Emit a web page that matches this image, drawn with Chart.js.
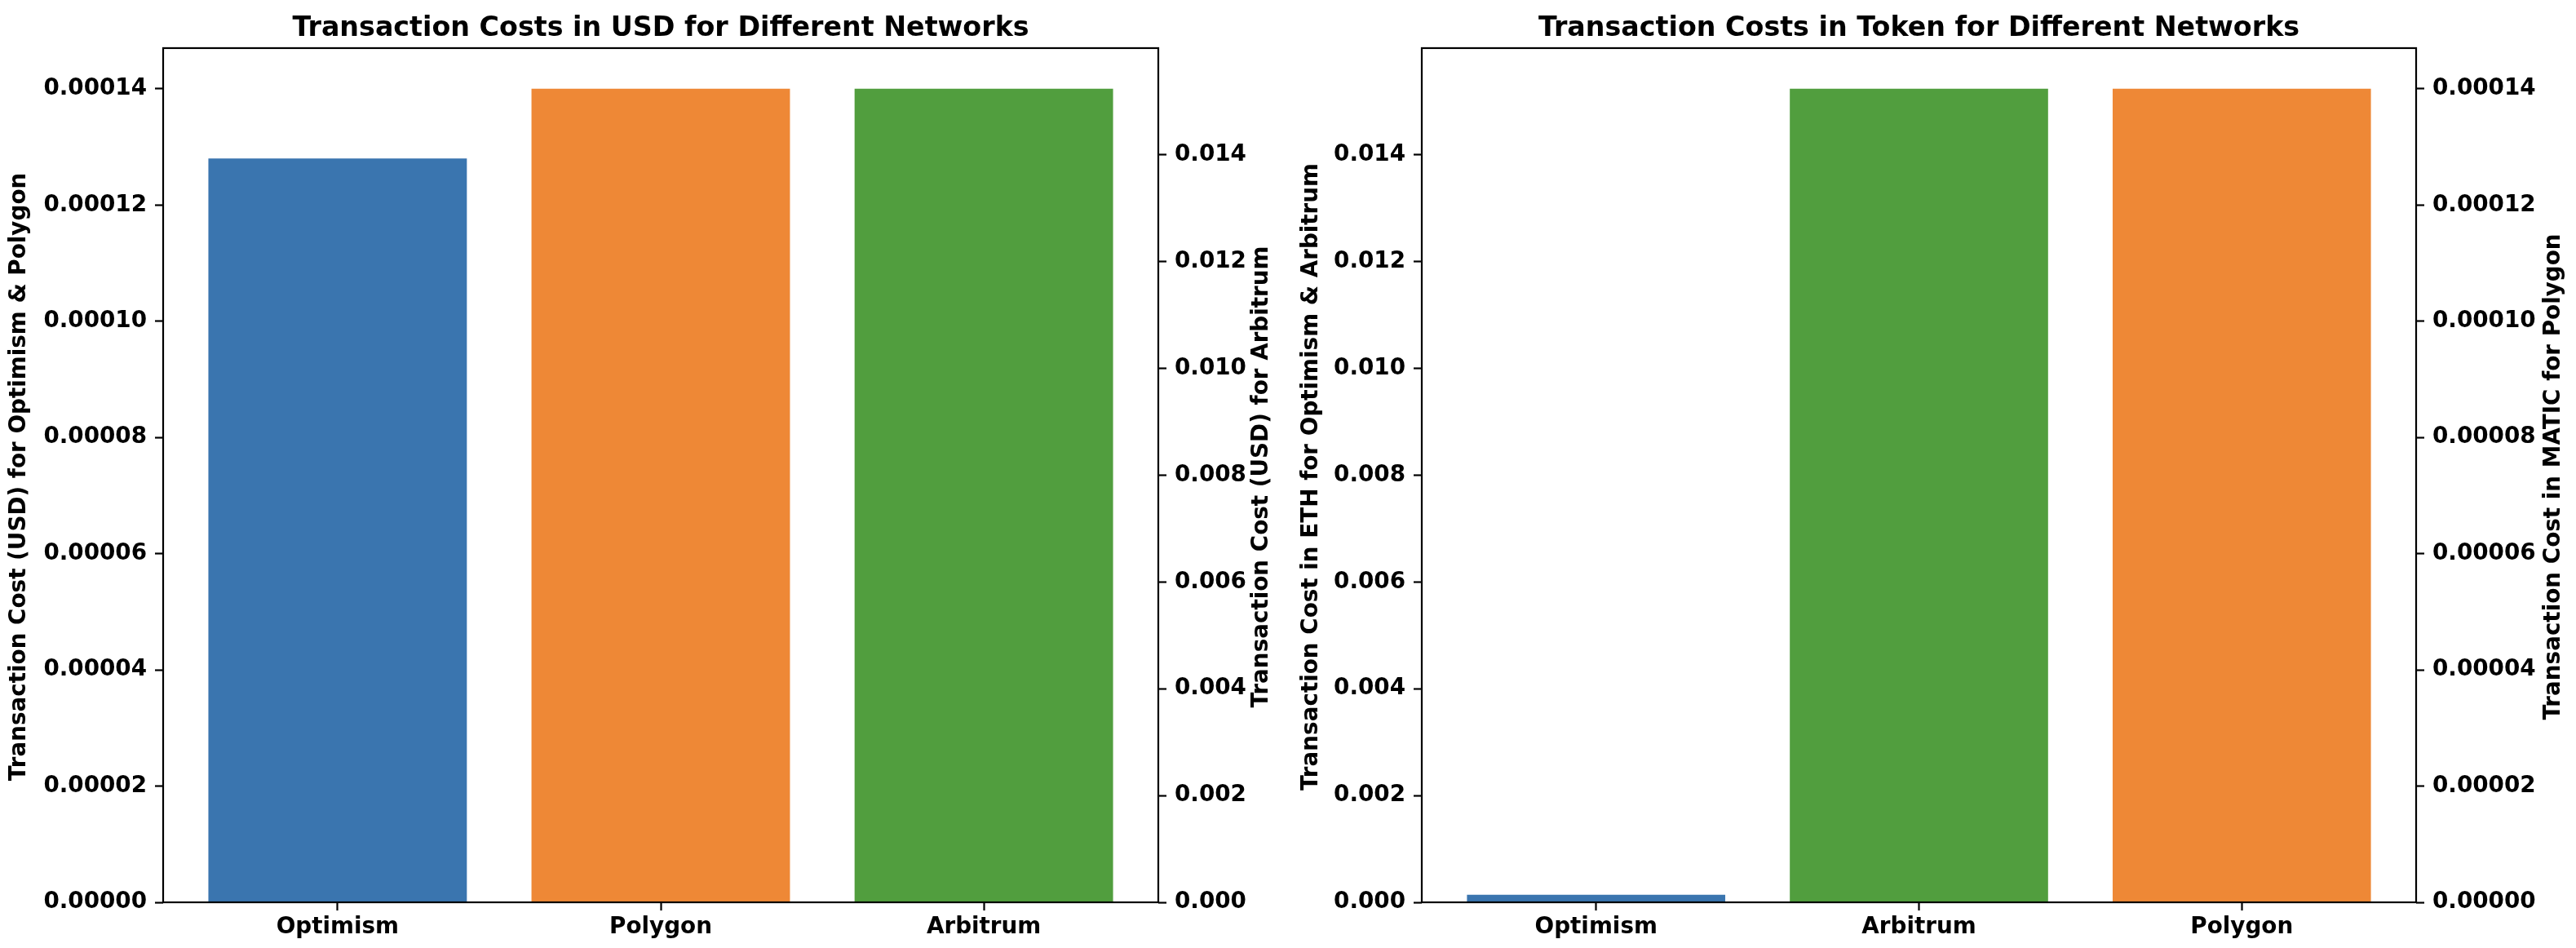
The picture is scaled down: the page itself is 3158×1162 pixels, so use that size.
<!DOCTYPE html>
<html lang="en">

<head>
    <meta charset="UTF-8" />
    <title>Transaction Costs</title>
    <style>
        body {
            margin: 0;
            padding: 0;
            background: #fff;
            width: 3158px;
            height: 1162px;
            position: relative;
            overflow: hidden;
        }

        canvas {
            position: absolute;
            top: 0;
        }

        #usdChart {
            left: 0;
        }

        #tokenChart {
            left: 1547px;
        }
    </style>
    <script src="https://cdn.jsdelivr.net/npm/chart.js@4/dist/chart.umd.min.js"></script>
</head>

<body>

    <canvas id="usdChart" width="1620" height="1162"></canvas>
    <canvas id="tokenChart" width="1611" height="1162"></canvas>

    <script>
        // Data
        const usdCategories = ['Optimism', 'Polygon', 'Arbitrum'];
        const usdValues = [0.000128, 0.00014, 0.01524];
        const usdAxes = ['y', 'y', 'y1'];

        const tokenCategories = ['Optimism', 'Arbitrum', 'Polygon'];
        const tokenValues = [0.00014, 0.01524, 0.00014];
        const tokenAxes = ['y', 'y', 'y1'];

        const smallTicks = [0, 0.00002, 0.00004, 0.00006, 0.00008, 0.00010, 0.00012, 0.00014];
        const largeTicks = [0, 0.002, 0.004, 0.006, 0.008, 0.010, 0.012, 0.014];

        const networkColors = {
            Optimism: 'rgb(58, 117, 175)',
            Polygon: 'rgb(238, 136, 54)',
            Arbitrum: 'rgb(81, 158, 62)'
        };

        const tickFont = { family: 'DejaVu Sans', size: 27.8, weight: 'bold' };
        const titleFont = { family: 'DejaVu Sans', size: 33.3, weight: 'bold', lineHeight: 1.2 };

        // Frame + rotated axis titles (matplotlib style, both read bottom to top)
        const framePlugin = {
            id: 'frame',
            afterDatasetsDraw(chart, args, opts) {
                const { ctx, chartArea: a } = chart;
                ctx.save();
                ctx.strokeStyle = '#000';
                ctx.lineWidth = 2.2;
                ctx.strokeRect(a.left, a.top, a.right - a.left, a.bottom - a.top);

                ctx.fillStyle = '#000';
                ctx.font = 'bold 27.8px "DejaVu Sans"';
                ctx.textAlign = 'center';
                ctx.textBaseline = 'middle';
                const midY = (a.top + a.bottom) / 2 + 2;
                [[a.left - opts.leftGap, opts.leftTitle], [a.right + opts.rightGap, opts.rightTitle]].forEach(([x, text]) => {
                    ctx.save();
                    ctx.translate(x, midY);
                    ctx.rotate(-Math.PI / 2);
                    ctx.fillText(text, 0, 0);
                    ctx.restore();
                });
                ctx.restore();
            }
        };

        function makeChart(canvasId, title, categories, values, axes, leftTicks, rightTicks, leftDigits, rightDigits, sideWidths, frameOpts) {
            const datasets = categories.map((name, i) => ({
                label: name,
                data: [{ x: i, y: values[i] }],
                yAxisID: axes[i],
                backgroundColor: networkColors[name],
                borderWidth: 0,
                grouped: false,
                categoryPercentage: 1.0,
                barPercentage: 0.8
            }));

            const leftMax = Math.max(...values.filter((v, i) => axes[i] === 'y')) * 1.05;
            const rightMax = Math.max(...values.filter((v, i) => axes[i] === 'y1')) * 1.05;

            const yAxis = (ticksList, digits, max, position, width) => ({
                type: 'linear',
                position: position,
                min: 0,
                max: max,
                afterBuildTicks: s => { s.ticks = ticksList.map(v => ({ value: v })); },
                afterFit: s => { s.width = width; },
                grid: { drawOnChartArea: false, tickLength: 10, tickWidth: 2.2, tickColor: '#000' },
                border: { display: false },
                ticks: {
                    color: '#000',
                    font: tickFont,
                    padding: 10,
                    callback: v => v.toFixed(digits)
                }
            });

            return new Chart(document.getElementById(canvasId).getContext('2d'), {
                type: 'bar',
                data: { datasets: datasets },
                options: {
                    responsive: false,
                    maintainAspectRatio: false,
                    devicePixelRatio: 1,
                    animation: false,
                    layout: { padding: 0 },
                    plugins: {
                        legend: { display: false },
                        tooltip: { enabled: false },
                        title: {
                            display: true,
                            text: title,
                            color: '#000',
                            font: titleFont,
                            padding: { top: 15, bottom: 4 }
                        },
                        frame: frameOpts
                    },
                    scales: {
                        x: {
                            type: 'linear',
                            min: -0.54,
                            max: 2.54,
                            offset: false,
                            afterBuildTicks: s => { s.ticks = categories.map((c, i) => ({ value: i })); },
                            afterFit: s => { s.height = 56; },
                            grid: { offset: false, drawOnChartArea: false, tickLength: 10, tickWidth: 2.2, tickColor: '#000' },
                            border: { display: false },
                            ticks: {
                                color: '#000',
                                font: tickFont,
                                padding: 4,
                                maxRotation: 0,
                                autoSkip: false,
                                callback: v => categories[v]
                            }
                        },
                        y: yAxis(leftTicks, leftDigits, leftMax, 'left', sideWidths[0]),
                        y1: yAxis(rightTicks, rightDigits, rightMax, 'right', sideWidths[1])
                    }
                },
                plugins: [framePlugin]
            });
        }

        makeChart('usdChart', 'Transaction Costs in USD for Different Networks',
            usdCategories, usdValues, usdAxes, smallTicks, largeTicks, 5, 3, [200, 200], {
                leftTitle: 'Transaction Cost (USD) for Optimism & Polygon',
                rightTitle: 'Transaction Cost (USD) for Arbitrum',
                leftGap: 176,
                rightGap: 127
            });

        makeChart('tokenChart', 'Transaction Costs in Token for Different Networks',
            tokenCategories, tokenValues, tokenAxes, largeTicks, smallTicks, 3, 5, [196, 196], {
                leftTitle: 'Transaction Cost in ETH for Optimism & Arbitrum',
                rightTitle: 'Transaction Cost in MATIC for Polygon',
                leftGap: 135,
                rightGap: 169
            });
    </script>
</body>

</html>
